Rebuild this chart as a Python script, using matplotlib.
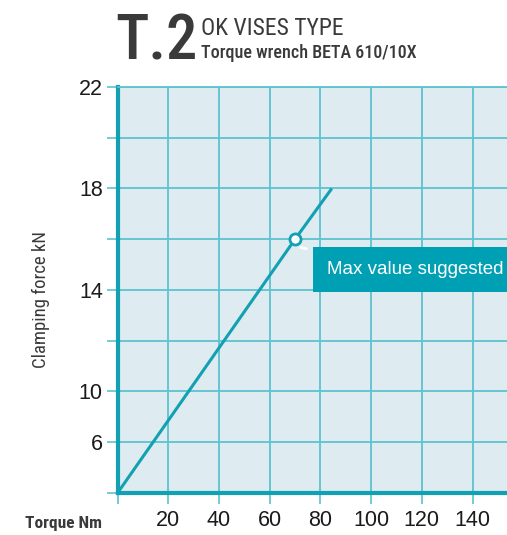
import matplotlib
matplotlib.use('Agg')
from matplotlib import pyplot

# Torque / clamping force curve for the vise
torque = [0, 70, 84.5]
force = [6, 16, 18]
max_torque = 70
max_force = 16

x_ticks = [20, 40, 60, 80, 100, 120, 140]
x_labels = ['20', '40', '60', '80', '100', '120', '140']
y_ticks = [8, 10, 14, 18, 22]
y_labels = ['6', '10', '14', '18', '22']

teal = '#12a0b3'
grid_teal = '#5cc3d0'
back = '#deebf1'
dark = '#3a3a3a'
narrow = ['Roboto Condensed', 'Liberation Sans Narrow', 'Roboto', 'DejaVu Sans']
plain = ['Liberation Sans', 'DejaVu Sans']

fig = pyplot.figure(figsize=(5.07, 5.35), dpi=100)
ax = fig.add_axes([0.2318, 0.0785, 0.7682, 0.7589])
ax.set_facecolor(back)

ax.set_xlim(0, 153.6)
ax.set_ylim(6, 22)

# grid every 20 Nm and every 2 kN
ax.set_xticks(range(0, 160, 20))
ax.set_yticks(range(6, 23, 2))
ax.tick_params(axis='both', length=8, width=1.2, color=grid_teal)
ax.set_xticklabels([])
ax.set_yticklabels([])
ax.grid(color=grid_teal, linewidth=1.3)

ax.spines['right'].set_visible(False)
ax.spines['top'].set_color(grid_teal)
ax.spines['top'].set_linewidth(1.3)
for name in ('left', 'bottom'):
    ax.spines[name].set_color(teal)
    ax.spines[name].set_linewidth(3)

# tick labels drawn as text
for x, lab in zip(x_ticks, x_labels):
    ax.text(x, 4.9, lab, ha='center', va='center', fontsize=15.5,
            family=plain, color='#1a1a1a')
for y, lab in zip(y_ticks, y_labels):
    ax.text(-5.8, y - 0.08, lab, ha='right', va='center', fontsize=15.5,
            family=plain, color='#1a1a1a')

ax.plot(torque, force, color=teal, linewidth=2.2, solid_capstyle='butt',
        zorder=3)
ax.plot([max_torque], [max_force], marker='o', markersize=8,
        markerfacecolor='white', markeredgecolor=teal, markeredgewidth=2,
        zorder=5)

# callout for the suggested maximum
ax.annotate('', xy=(max_torque + 1.2, max_force - 0.3),
            xytext=(75.5, 15.6),
            arrowprops=dict(arrowstyle='-', color='white', lw=2),
            zorder=4)
ax.text(82.6, 14.82, 'Max value suggested', ha='left', va='center',
        fontsize=13.5, color='white', family=plain, zorder=6,
        bbox=dict(boxstyle='square,pad=0.75', facecolor='#00a0b4',
                  edgecolor='none'))

fig.text(0.08, 0.44, 'Clamping force kN', rotation=90, ha='center',
         va='center', fontsize=13.5, family=narrow, color=dark)
fig.text(0.05, 0.022, 'Torque Nm', ha='left', va='center', fontsize=12.5,
         family=narrow, color=dark, fontweight='bold')

# heading
fig.text(0.228, 0.888, 'T.2', ha='left', va='baseline', fontsize=45,
         color=dark, family=narrow, fontweight='medium')
fig.text(0.396, 0.934, 'OK VISES TYPE', ha='left', va='baseline',
         fontsize=17, family=narrow, color=dark)
fig.text(0.396, 0.892, 'Torque wrench BETA 610/10X', ha='left',
         va='baseline', fontsize=13, family=narrow, color=dark,
         fontweight='medium')

fig.savefig('out.png', dpi=100)
